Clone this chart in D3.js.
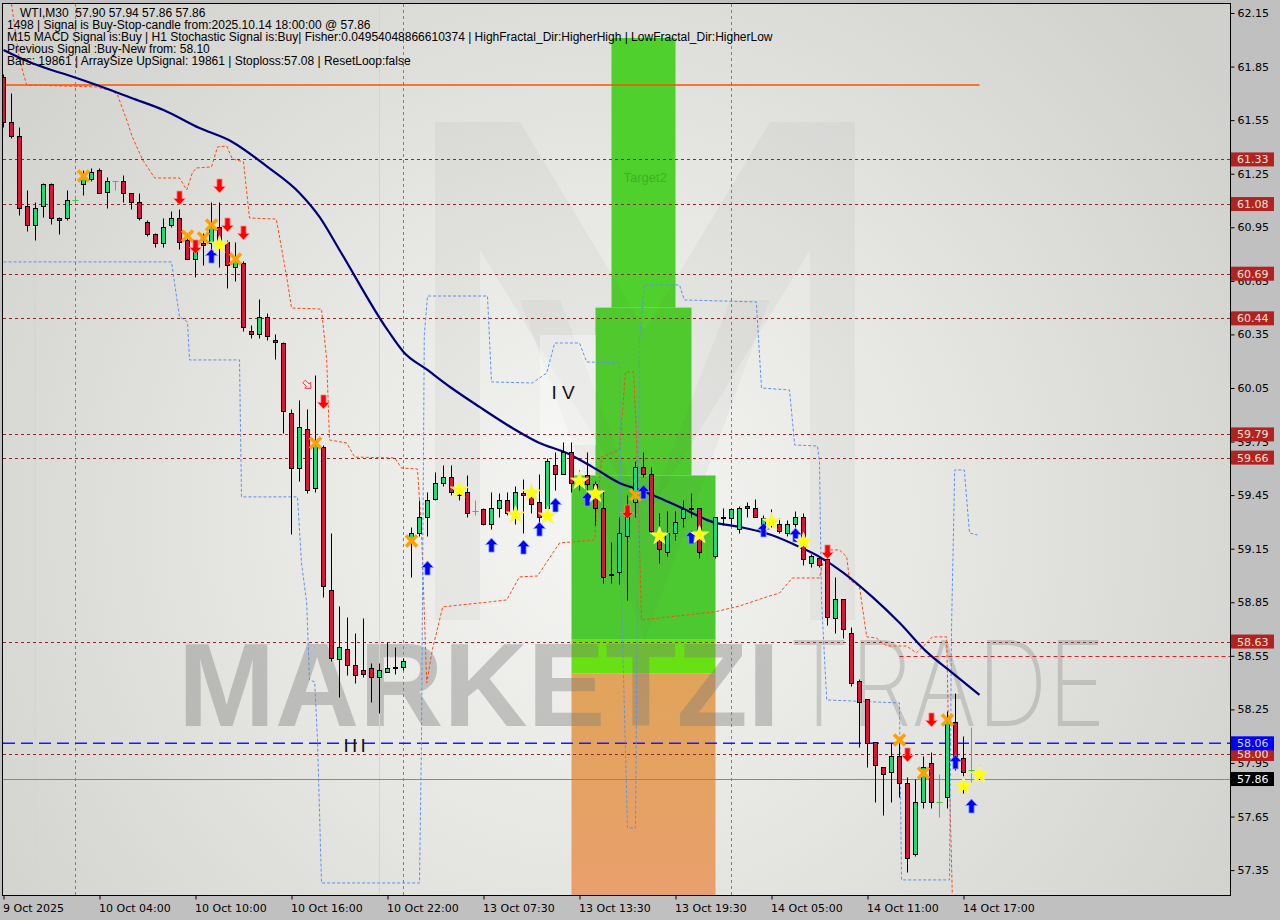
<!DOCTYPE html>
<html><head><meta charset="utf-8">
<script src="https://cdn.jsdelivr.net/npm/d3@7/dist/d3.min.js"></script>
<style>html,body{margin:0;padding:0;background:#c0c0c0;}svg{display:block}</style>
</head><body>
<svg id="c" width="1280" height="920"></svg>
<script>
// ---------------- DATA ----------------
const timeLabels = ["9 Oct 2025","10 Oct 04:00","10 Oct 10:00","10 Oct 16:00","10 Oct 22:00","13 Oct 07:30","13 Oct 13:30","13 Oct 19:30","14 Oct 05:00","14 Oct 11:00","14 Oct 17:00"];
const timeLabelBars = [0,12,24,36,48,60,72,84,96,108,120];
const priceTicks = [62.15,61.85,61.55,61.25,60.95,60.65,60.35,60.05,59.75,59.45,59.15,58.85,58.55,58.25,57.95,57.65,57.35];

const opens = [61.79,61.54,61.46,61.07,60.96,61.07,61.19,61.00,61.00,61.10,
61.19,61.22,61.27,61.15,61.21,61.21,61.14,61.09,60.98,60.91,
60.86,60.96,61.00,60.88,60.77,60.86,60.86,60.95,60.87,60.73,
60.75,60.37,60.35,60.45,60.32,60.30,59.91,59.60,59.82,59.49,
59.72,58.92,58.53,58.59,58.50,58.47,58.48,58.43,58.46,58.48,
58.49,59.18,59.24,59.33,59.43,59.52,59.55,59.48,59.47,59.36,
59.37,59.29,59.38,59.42,59.36,59.46,59.44,59.41,59.38,59.62,
59.57,59.69,59.55,59.56,59.51,59.38,59.01,59.02,59.22,59.41,
59.61,59.57,59.20,59.13,59.24,59.32,59.38,59.38,59.17,59.11,
59.33,59.32,59.26,59.39,59.38,59.29,59.32,59.29,59.24,59.29,
59.33,59.07,59.10,59.09,58.76,58.87,58.68,58.41,58.31,58.07,
57.93,57.90,57.99,57.84,57.44,57.73,57.95,57.73,57.76,58.18,
57.98,57.91,57.90];
const highs = [61.81,61.70,61.51,61.16,61.09,61.20,61.20,61.01,61.16,61.12,
61.27,61.28,61.28,61.23,61.21,61.24,61.14,61.14,60.99,60.92,
61.00,61.04,61.05,60.89,60.87,60.92,61.09,61.09,60.88,60.87,
60.76,60.40,60.55,60.47,60.35,60.31,59.93,59.98,59.93,60.12,
59.73,59.24,58.83,58.77,58.68,58.76,58.51,58.51,58.63,58.60,
58.54,59.27,59.42,59.47,59.58,59.62,59.62,59.53,59.56,59.42,
59.38,59.47,59.46,59.47,59.50,59.54,59.50,59.57,59.66,59.69,
59.75,59.75,59.59,59.69,59.53,59.48,59.19,59.33,59.45,59.64,
59.69,59.61,59.35,59.36,59.36,59.42,59.46,59.38,59.27,59.33,
59.38,59.38,59.39,59.41,59.43,59.34,59.37,59.32,59.31,59.36,
59.35,59.12,59.11,59.11,58.99,58.87,58.71,58.42,58.31,58.07,
57.93,58.06,58.06,57.87,57.86,57.99,58.01,57.89,58.24,58.34,
58.10,58.15,57.94];
const lows = [61.51,61.45,61.02,60.93,60.88,61.01,60.97,60.91,60.99,61.09,
61.13,61.21,61.14,61.06,61.16,61.09,61.05,60.99,60.90,60.84,
60.84,60.95,60.83,60.77,60.67,60.74,60.83,60.73,60.61,60.65,
60.37,60.33,60.33,60.32,60.21,59.80,59.23,59.53,59.46,59.47,
58.88,58.52,58.32,58.44,58.40,58.43,58.29,58.23,58.46,58.45,
58.47,58.99,59.22,59.22,59.42,59.50,59.45,59.42,59.33,59.34,
59.28,59.26,59.33,59.34,59.29,59.24,59.35,59.29,59.35,59.48,
59.57,59.47,59.48,59.45,59.28,58.96,58.96,58.95,58.86,59.33,
59.55,59.24,59.07,59.11,59.20,59.27,59.33,59.10,59.09,59.10,
59.28,59.29,59.24,59.33,59.33,59.27,59.27,59.24,59.22,59.27,
59.06,59.05,59.05,58.72,58.68,58.65,58.38,58.04,57.93,57.73,
57.66,57.73,57.76,57.34,57.43,57.70,57.70,57.65,57.70,57.91,
57.78,57.84,57.86];
const closes = [61.54,61.46,61.06,60.96,61.06,61.19,61.00,60.99,61.10,61.10,
61.23,61.26,61.14,61.21,61.21,61.14,61.09,61.00,60.91,60.86,
60.95,61.00,60.87,60.77,60.83,60.85,60.95,60.86,60.74,60.76,
60.39,60.35,60.45,60.34,60.31,59.92,59.60,59.83,59.48,59.73,
58.94,58.54,58.60,58.50,58.44,58.45,58.43,58.47,58.48,58.49,
58.52,59.24,59.33,59.42,59.52,59.55,59.47,59.45,59.35,59.36,
59.29,59.38,59.42,59.35,59.47,59.45,59.40,59.33,59.64,59.57,
59.69,59.52,59.51,59.51,59.38,58.99,59.00,59.24,59.37,59.61,
59.57,59.25,59.15,59.24,59.30,59.37,59.37,59.13,59.17,59.33,
59.32,59.37,59.38,59.38,59.33,59.32,59.29,59.25,59.29,59.33,
59.09,59.11,59.06,58.77,58.87,58.70,58.40,58.29,58.06,57.94,
57.89,57.99,57.84,57.42,57.73,57.93,57.73,57.73,58.18,57.99,
57.90,57.91,57.86];

// moving average (read at key bars)
const maBars = [0,3,6,8,12,16,20,24.5,28.6,33,37,39.5,42,48,50,53,56,59.5,63.6,67,70.4,73.6,77,79.5,82,85,88.6,92,96,99.5,102,105,108.6,112,115.4,118.6,122];
const maVals = [61.943,61.88,61.831,61.803,61.741,61.674,61.607,61.506,61.428,61.288,61.142,61.008,60.823,60.375,60.252,60.151,60.050,59.944,59.826,59.742,59.686,59.608,59.518,59.479,59.434,59.373,59.300,59.272,59.227,59.160,59.104,59.015,58.880,58.735,58.572,58.455,58.331];

// upper (orange) channel
const upBars = [1,2,2.9,11.6,13.6,14.25,15.4,16.1,17.4,18.9,22,22.9,23.6,24.1,26,26.75,27.9,28.6,30,30.75,34.1,35.4,36,39.75,40.4,40.75,42.9,43.9,48.9,49.75,51.75,52.25,52.9,53.6,54.9,60.75,62.9,64.5,66.75,69.5,73.9,74.1,74.75,77,77.75,78.75,79.1,79.75,88.9,92,95.4,97,98.6,102,102.4,102.9,104.5,105.4,105.75,107,107.9,109.1,110.4,112.9,114.1,115.4,116.1,117.9,118,118.25,118.6];
const upVals = [62.20,61.887,61.747,61.736,61.713,61.691,61.551,61.456,61.327,61.226,61.226,61.159,61.254,61.282,61.288,61.40,61.405,61.333,61.316,61.002,60.996,60.672,60.498,60.492,60.207,59.759,59.742,59.663,59.658,59.602,59.596,59.255,58.398,58.583,58.824,58.852,58.863,58.992,58.997,59.182,59.199,59.328,59.663,59.703,60.14,60.14,59.815,58.751,58.796,58.829,58.880,58.902,58.986,58.986,59.07,59.143,59.143,59.104,58.975,58.936,58.656,58.650,58.605,58.605,58.566,58.622,58.656,58.656,58.415,57.855,57.211];

// lower (blue) channel
const dnBars = [0,21,22,23,23.25,29.5,29.75,36.75,37.25,37.9,38.25,38.9,39.25,39.75,52,52.25,52.6,53,60.5,61,66.1,67.9,68.9,72,72.9,77,77.25,78,79,79.5,80.1,84.5,85.1,94.1,94.75,98.25,98.9,101.75,102,102.25,102.9,112,112.25,118.25,118.5,118.9,120.1,120.75,121.75];
const dnVals = [60.756,60.756,60.448,60.42,60.207,60.207,59.44,59.44,59.07,58.846,58.415,58.404,58.079,57.278,57.278,58.079,60.347,60.565,60.565,60.084,60.078,60.134,60.302,60.302,60.196,60.190,58.863,57.586,57.586,60.319,60.627,60.627,60.543,60.532,60.05,60.039,59.731,59.725,59.630,58.863,58.303,58.286,57.295,57.295,58.695,59.591,59.591,59.238,59.227];

// horizontal levels
const redLevels = [61.33,61.08,60.69,60.44,59.79,59.66,58.63,58.00];
const targetLevel = 61.747;
const brightLevel = 58.55;
const stopLevel = 58.06;
const bidLevel = 57.86;

// target zone boxes (bar from, bar to, top price, bottom price)
const zoneFrom = [76,74,71,71,71];
const zoneTo   = [84,86,89,89,89];
const zoneTop  = [62.01,60.50,59.56,58.64,58.45];
const zoneBot  = [60.50,59.56,58.64,58.45,57.10];

// vertical separators
const sepGreyBars = [9,50,91];
const sepCyanBars = [4,47];

// signals
const crossBars = [10,23,25,26,29,39,51,79,112,115,118];
const crossVals = [61.237,60.901,60.890,60.963,60.772,59.742,59.193,59.451,58.079,57.894,58.191];
const starBars = [27,57,64,66,68,72,74,82,87,96,100,120,122];
const starVals = [60.851,59.479,59.339,59.462,59.333,59.529,59.457,59.221,59.227,59.30,59.188,57.821,57.883];
const upArrowBars = [26,53,61,65,67,69,73,80,86,95,99,119,121];
const upArrowVals = [60.789,59.042,59.17,59.159,59.26,59.395,59.428,59.468,59.216,59.255,59.227,57.956,57.709];
const dnArrowBars = [22,27,24,28,30,40,78,103,116,113];
const dnArrowVals = [61.114,61.181,60.840,60.963,60.918,59.972,59.356,59.132,58.191,57.995];
const hollowArrowBar = 38, hollowArrowVal = 60.067;

const headerLines = [
 "WTI,M30  57.90 57.94 57.86 57.86",
 "1498 | Signal is Buy-Stop-candle from:2025.10.14 18:00:00 @ 57.86",
 "M15 MACD Signal is:Buy | H1 Stochastic Signal is:Buy| Fisher:0.04954048866610374 | HighFractal_Dir:HigherHigh | LowFractal_Dir:HigherLow",
 "Previous Signal :Buy-New from: 58.10",
 "Bars: 19861 | ArraySize UpSignal: 19861 | Stoploss:57.08 | ResetLoop:false"
];

// ---------------- DRAW ----------------
const svg = d3.select('#c');
const X0 = 3, X1 = 1230, Y0 = 4, Y1 = 895;
const x = d3.scaleLinear().domain([0,122]).range([3.5,979.5]);
const y = d3.scaleLinear().domain([57.35,62.15]).range([870.1,13]);
const py = v => Math.round(y(v)) + 0.5;

const defs = svg.append('defs');
const rg = defs.append('radialGradient').attr('id','bg').attr('gradientUnits','userSpaceOnUse')
  .attr('cx',600).attr('cy',520).attr('r',760);
rg.append('stop').attr('offset','0%').attr('stop-color','#f5f5f3');
rg.append('stop').attr('offset','45%').attr('stop-color','#e6e6e3');
rg.append('stop').attr('offset','100%').attr('stop-color','#d0d0cc');
const og = defs.append('linearGradient').attr('id','og').attr('x1',0).attr('y1',0).attr('x2',0).attr('y2',1);
og.append('stop').attr('offset','0%').attr('stop-color','#e0a45a');
og.append('stop').attr('offset','100%').attr('stop-color','#eb9f6e');
defs.append('clipPath').attr('id','clip').append('rect').attr('x',X0).attr('y',Y0).attr('width',X1-X0).attr('height',Y1-Y0);

svg.append('rect').attr('x',X0).attr('y',Y0).attr('width',X1-X0).attr('height',Y1-Y0).attr('fill','url(#bg)');

const plot = svg.append('g').attr('clip-path','url(#clip)');

// zones
const zoneFill = ['#4fd02c','#4fd02c','#4cc831','#68e114','url(#og)'];
zoneFrom.forEach((f,k)=>{
  plot.append('rect').attr('x',x(f)).attr('width',x(zoneTo[k])-x(f))
    .attr('y',y(zoneTop[k])).attr('height',y(zoneBot[k])-y(zoneTop[k])).attr('fill',zoneFill[k]);
});

// watermark logo
const wm = plot.append('g');
wm.append('path').attr('d','M435,122 L520,122 L645,330 L770,122 L855,122 L855,620 L810,620 L810,250 L645,520 L480,250 L480,620 L435,620 Z')
  .attr('fill','rgba(110,110,110,0.06)');
wm.append('path').attr('d','M520,300 L560,300 L645,520 L730,300 L770,300 L645,640 Z').attr('fill','rgba(90,90,90,0.05)');
wm.append('rect').attr('x',540).attr('y',335).attr('width',56).attr('height',110).attr('fill','rgba(255,255,255,0.35)');
wm.append('text').attr('x',178).attr('y',726).text('MARKETZI')
  .attr('font-family','Liberation Sans, Arial, sans-serif').attr('font-weight','bold').attr('font-size',118)
  .attr('textLength',602).attr('lengthAdjust','spacingAndGlyphs').attr('fill','rgba(120,120,120,0.38)');
wm.append('text').attr('x',788).attr('y',726).text('TRADE')
  .attr('font-family','Inter, Lato, sans-serif').attr('font-weight','200').attr('font-size',118)
  .attr('textLength',318).attr('lengthAdjust','spacingAndGlyphs').attr('fill','rgba(130,130,130,0.33)');

// vertical separators
sepCyanBars.forEach(b=>plot.append('line').attr('x1',x(b)).attr('x2',x(b)).attr('y1',Y0).attr('y2',Y1).attr('stroke','#b9dfe6').attr('stroke-width',1));
sepGreyBars.forEach(b=>plot.append('line').attr('x1',x(b)).attr('x2',x(b)).attr('y1',Y0).attr('y2',Y1).attr('stroke','#808080').attr('stroke-dasharray','3,3'));

// horizontal lines
redLevels.forEach(v=>plot.append('line').attr('x1',X0).attr('x2',X1).attr('y1',py(v)).attr('y2',py(v)).attr('stroke','#9b2424').attr('stroke-dasharray','3,3'));
plot.append('line').attr('x1',x(112)).attr('x2',X1).attr('y1',py(brightLevel)).attr('y2',py(brightLevel)).attr('stroke','#e02020').attr('stroke-dasharray','4,3');
plot.append('line').attr('x1',X0).attr('x2',X1).attr('y1',y(stopLevel)).attr('y2',y(stopLevel)).attr('stroke','#1a1aff').attr('stroke-width',1.4).attr('stroke-dasharray','12,6');
plot.append('line').attr('x1',X0).attr('x2',X1).attr('y1',py(bidLevel)).attr('y2',py(bidLevel)).attr('stroke','#7a8aa6');
plot.append('line').attr('x1',x(0)).attr('x2',x(122)).attr('y1',y(targetLevel)).attr('y2',y(targetLevel)).attr('stroke','#ff5000').attr('stroke-width',1.5);

// channels
const lineGen = d3.line().x(d=>x(d[0])).y(d=>y(d[1]));
plot.append('path').attr('d',lineGen(upBars.map((b,k)=>[b,upVals[k]]))).attr('fill','none').attr('stroke','#ff4a10').attr('stroke-dasharray','3,2');
plot.append('path').attr('d',lineGen(dnBars.map((b,k)=>[b,dnVals[k]]))).attr('fill','none').attr('stroke','#5f90ee').attr('stroke-dasharray','3,2');

// MA
plot.append('path').attr('d',d3.line().curve(d3.curveMonotoneX).x(d=>x(d[0])).y(d=>y(d[1]))(maBars.map((b,k)=>[b,maVals[k]])))
  .attr('fill','none').attr('stroke','#00007a').attr('stroke-width',2.2);

// text labels
plot.append('text').attr('x',x(77)+4).attr('y',y(61.23)+5).text('Target2').attr('font-family','Liberation Sans, Arial, sans-serif').attr('font-size',13).attr('fill','#3db024');
plot.append('text').attr('x',x(68.5)).attr('y',y(60.03)+7).text('I V').attr('font-family','Liberation Sans, Arial, sans-serif').attr('font-size',19).attr('fill','#111');
plot.append('text').attr('x',x(42.5)).attr('y',y(58.05)+7).text('I I I').attr('font-family','Liberation Sans, Arial, sans-serif').attr('font-size',19).attr('fill','#111').attr('letter-spacing','-1');

// candles
const cg = plot.append('g');
opens.forEach((o,i)=>{
  const c = closes[i], h = highs[i], l = lows[i], cx = x(i);
  if (o === c) {
    cg.append('line').attr('x1',cx).attr('x2',cx).attr('y1',py(h)).attr('y2',py(l)).attr('stroke','#32cd32');
    cg.append('line').attr('x1',cx-3).attr('x2',cx+3).attr('y1',py(o)).attr('y2',py(o)).attr('stroke','#32cd32');
    return;
  }
  cg.append('line').attr('x1',cx).attr('x2',cx).attr('y1',py(h)).attr('y2',py(l)).attr('stroke','#000');
  const t = py(Math.max(o,c)), b = py(Math.min(o,c));
  cg.append('rect').attr('x',cx-2).attr('width',4).attr('y',t).attr('height',Math.max(b-t,0.01))
    .attr('fill', c>o ? '#14e07a' : '#dc143c').attr('stroke','#000').attr('stroke-width',1);
});

// markers
const mg = plot.append('g');
crossBars.forEach((b,k)=>mg.append('path').attr('transform',`translate(${x(b)},${y(crossVals[k])})`)
  .attr('d','M-5.5,-5.5L5.5,5.5M5.5,-5.5L-5.5,5.5').attr('stroke','#ffa200').attr('stroke-width',3.6).attr('fill','none'));
const arrowUp = 'M0,-7 L6,-0.5 L2.6,-0.5 L2.6,7 L-2.6,7 L-2.6,-0.5 L-6,-0.5 Z';
upArrowBars.forEach((b,k)=>mg.append('path').attr('transform',`translate(${x(b)},${y(upArrowVals[k])})`)
  .attr('d',arrowUp).attr('fill','#0000ff').attr('stroke','#7f9cff').attr('stroke-width',0.8));
dnArrowBars.forEach((b,k)=>mg.append('path').attr('transform',`translate(${x(b)},${y(dnArrowVals[k])}) rotate(180)`)
  .attr('d',arrowUp).attr('fill','#ff0000').attr('stroke','#ff9090').attr('stroke-width',0.8));
mg.append('path').attr('transform',`translate(${x(hollowArrowBar)},${y(hollowArrowVal)}) rotate(135) scale(0.7)`)
  .attr('d',arrowUp).attr('fill','none').attr('stroke','#ff2020').attr('stroke-width',1.2);
const star = d3.symbol(d3.symbolStar, 100)();
starBars.forEach((b,k)=>mg.append('path').attr('transform',`translate(${x(b)},${y(starVals[k])})`)
  .attr('d',star).attr('fill','#ffff00').attr('stroke','#f4f08a').attr('stroke-width',1));

// header text
const hg = svg.append('g').attr('font-family','Liberation Sans, Arial, sans-serif').attr('font-size',12).attr('fill','#000');
headerLines.forEach((t,k)=>hg.append('text').attr('x',k===0?20:7).attr('y',17+k*12).text(t).attr('xml:space','preserve').style('white-space','pre'));

// frame
svg.append('rect').attr('x',X0-0.5).attr('y',Y0-0.5).attr('width',X1-X0+1).attr('height',Y1-Y0+1).attr('fill','none').attr('stroke','#000');

// axes
const ay = svg.append('g').attr('transform',`translate(${X1+0.5},0)`)
  .call(d3.axisRight(y).tickValues(priceTicks).tickSize(4).tickFormat(d3.format('.2f')));
ay.select('.domain').remove();
ay.selectAll('text').attr('font-family','DejaVu Sans, sans-serif').attr('font-size',11).attr('fill','#000').attr('x',7);
ay.selectAll('line').attr('stroke','#000');

const ax = svg.append('g').attr('transform',`translate(0,${Y1+0.5})`)
  .call(d3.axisBottom(x).tickValues(timeLabelBars).tickSize(4).tickFormat((d,k)=>timeLabels[k]));
ax.select('.domain').remove();
ax.selectAll('text').attr('font-family','DejaVu Sans, sans-serif').attr('font-size',11).attr('fill','#000')
  .attr('text-anchor','start').attr('dx',-1).attr('y',9);
ax.selectAll('line').attr('stroke','#000');

// price labels on axis
const boxes = redLevels.map(v=>({v,bg:'#b22222',fg:'#f3e3d2'}))
  .concat([{v:stopLevel,bg:'#0000ff',fg:'#c9d6ff'},{v:bidLevel,bg:'#000000',fg:'#ffffff'}]);
const bg2 = svg.append('g');
boxes.forEach(d=>{
  const yy = y(d.v);
  bg2.append('rect').attr('x',X1+1).attr('y',yy-7).attr('width',43).attr('height',14).attr('fill',d.bg);
  bg2.append('text').attr('x',X1+7).attr('y',yy+4).text(d3.format('.2f')(d.v))
    .attr('font-family','DejaVu Sans, sans-serif').attr('font-size',11).attr('fill',d.fg);
});
</script>
</body></html>
